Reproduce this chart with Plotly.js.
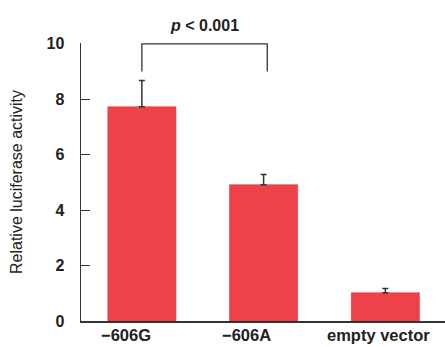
<!DOCTYPE html>
<html><head><meta charset="utf-8">
<script src="https://cdn.plot.ly/plotly-3.0.1.min.js"></script>
<style>body{margin:0;background:#fff}#c{width:445px;height:347px}</style>
</head><body><div id="c"></div>
<script>
const categories = ["\u2212606G", "\u2212606A", "empty vector"];
const values = [7.73, 4.92, 1.02];
const errors = [0.95, 0.37, 0.15];
const yTicks = [0, 2, 4, 6, 8, 10];
const pText = "<i>p</i> < 0.001";
const bracket = {from: 0, to: 1.03, low: 9.0, high: 10};
const labelShift = [-16, -17, -7];

const trace = {
  type: "bar", x: [0, 1, 2], y: values, width: 0.56,
  marker: {color: "#EE4248", line: {color: "#D8343A", width: 0.5}},
  error_y: {type: "data", symmetric: false, array: errors, arrayminus: errors.map(() => 0),
            color: "#333", thickness: 1.5, width: 3}
};
const catLabels = categories.map((c, i) => ({
  x: i, y: 0, xref: "x", yref: "paper", text: c, showarrow: false,
  xanchor: "center", yanchor: "top", xshift: labelShift[i], yshift: -4, borderpad: 0,
  font: {size: 16.5, weight: "bold"}
}));
const layout = {
  width: 445, height: 347,
  margin: {l: 81, r: 0, t: 43, b: 26},
  paper_bgcolor: "#fff", plot_bgcolor: "#fff",
  showlegend: false,
  font: {family: "Liberation Sans, Arial, sans-serif", color: "#222"},
  xaxis: {range: [-0.5, 2.49], tickvals: [0, 1, 2], showticklabels: false, ticks: "",
          showline: true, linecolor: "#333", linewidth: 1.5, showgrid: false, zeroline: false},
  yaxis: {range: [0, 10.03], tickvals: yTicks, ticks: "inside", ticklen: 9, tickwidth: 1.2, tickcolor: "#333",
          showline: true, linecolor: "#333", linewidth: 1.5, showgrid: false, zeroline: false,
          tickfont: {size: 16, weight: "bold"}, ticklabelstandoff: 12,
          title: {text: "Relative luciferase activity", font: {size: 16}, standoff: 20}},
  shapes: [{type: "path", xref: "x", yref: "y",
            path: `M ${bracket.from},${bracket.low} L ${bracket.from},${bracket.high} L ${bracket.to},${bracket.high} L ${bracket.to},${bracket.low}`,
            line: {color: "#333", width: 1.3}}],
  annotations: [{x: (bracket.from + bracket.to) / 2, y: bracket.high, xref: "x", yref: "y",
                 text: pText, showarrow: false, yanchor: "bottom", yshift: 8,
                 font: {size: 16, weight: "bold"}}].concat(catLabels)
};
Plotly.newPlot("c", [trace], layout, {staticPlot: true});
</script></body></html>
